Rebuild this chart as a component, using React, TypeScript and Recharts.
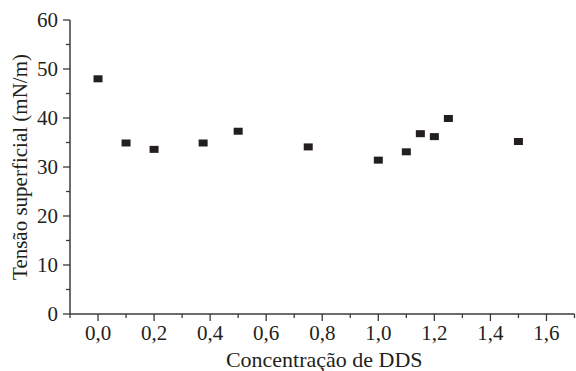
import { Scatter, ScatterChart, XAxis, YAxis } from "recharts";

const concentration = [0, 0.1, 0.2, 0.375, 0.5, 0.75, 1.0, 1.1, 1.15, 1.2, 1.25, 1.5];
const surfaceTension = [48.0, 34.9, 33.6, 34.9, 37.3, 34.1, 31.4, 33.1, 36.8, 36.2, 39.9, 35.2];

const xTicks = [-0.1, 0, 0.1, 0.2, 0.3, 0.4, 0.5, 0.6, 0.7, 0.8, 0.9, 1.0, 1.1, 1.2, 1.3, 1.4, 1.5, 1.6, 1.7];
const yTicks = [0, 5, 10, 15, 20, 25, 30, 35, 40, 45, 50, 55, 60];

const INK = "#231f20";
const AXIS = "#3c3a3b";
const SERIF = "Liberation Serif";

const data = concentration.map((c, i) => ({ c, t: surfaceTension[i] }));

// minor ticks every 0.1, labelled majors every 0.2
function XTick({ x, y, payload }: any) {
  const v: number = payload.value;
  const major = Math.abs(Math.round(v * 10) % 2) === 0;
  return (
    <g>
      <line x1={x} x2={x} y1={y} y2={y + (major ? 7 : 4)} stroke={AXIS} strokeWidth={1.3} />
      {major && (
        <text x={x} y={y + 26} textAnchor="middle" fill={INK} style={{ fontFamily: SERIF, fontSize: 21 }}>
          {v.toFixed(1).replace(".", ",")}
        </text>
      )}
    </g>
  );
}

function YTick({ x, y, payload }: any) {
  const v: number = payload.value;
  const major = v % 10 === 0;
  return (
    <g>
      <line x1={x} x2={x - (major ? 7 : 4)} y1={y} y2={y} stroke={AXIS} strokeWidth={1.3} />
      {major && (
        <text x={x - 12} y={y} dy="0.35em" textAnchor="end" fill={INK} style={{ fontFamily: SERIF, fontSize: 21 }}>
          {v}
        </text>
      )}
    </g>
  );
}

function Marker({ cx, cy }: any) {
  return <rect x={cx - 4.5} y={cy - 3.5} width={9} height={7} fill={INK} />;
}

export default function App() {
  return (
    <div style={{ position: "absolute", left: 0, top: 0, background: "#fff", fontFamily: SERIF }}>
      <ScatterChart
        width={576}
        height={371}
        margin={{ top: 20, right: 1.5, bottom: 0, left: 0 }}
        style={{ fontFamily: SERIF }}
      >
        <XAxis
          type="number"
          dataKey="c"
          domain={[-0.1, 1.7]}
          ticks={xTicks}
          interval={0}
          tickSize={0}
          tickMargin={0}
          tickLine={false}
          height={57}
          stroke={AXIS}
          strokeWidth={1.5}
          tick={<XTick />}
          label={{
            content: ({ viewBox }: any) => (
              <text
                x={viewBox.x + viewBox.width / 2 + 2}
                y={viewBox.y + 53}
                textAnchor="middle"
                fill={INK}
                style={{ fontFamily: SERIF, fontSize: 22 }}
              >
                Concentração de DDS
              </text>
            ),
          }}
        />
        <YAxis
          type="number"
          dataKey="t"
          domain={[0, 60]}
          ticks={yTicks}
          interval={0}
          tickSize={0}
          tickMargin={0}
          tickLine={false}
          width={70}
          stroke={AXIS}
          strokeWidth={1.5}
          tick={<YTick />}
          label={{
            content: ({ viewBox }: any) => {
              const cx = 27;
              const cy = viewBox.y + viewBox.height / 2;
              return (
                <text
                  x={cx}
                  y={cy}
                  transform={`rotate(-90 ${cx} ${cy})`}
                  textAnchor="middle"
                  fill={INK}
                  style={{ fontFamily: SERIF, fontSize: 21 }}
                >
                  Tensão superficial (mN/m)
                </text>
              );
            },
          }}
        />
        <Scatter data={data} shape={<Marker />} isAnimationActive={false} />
      </ScatterChart>
    </div>
  );
}
